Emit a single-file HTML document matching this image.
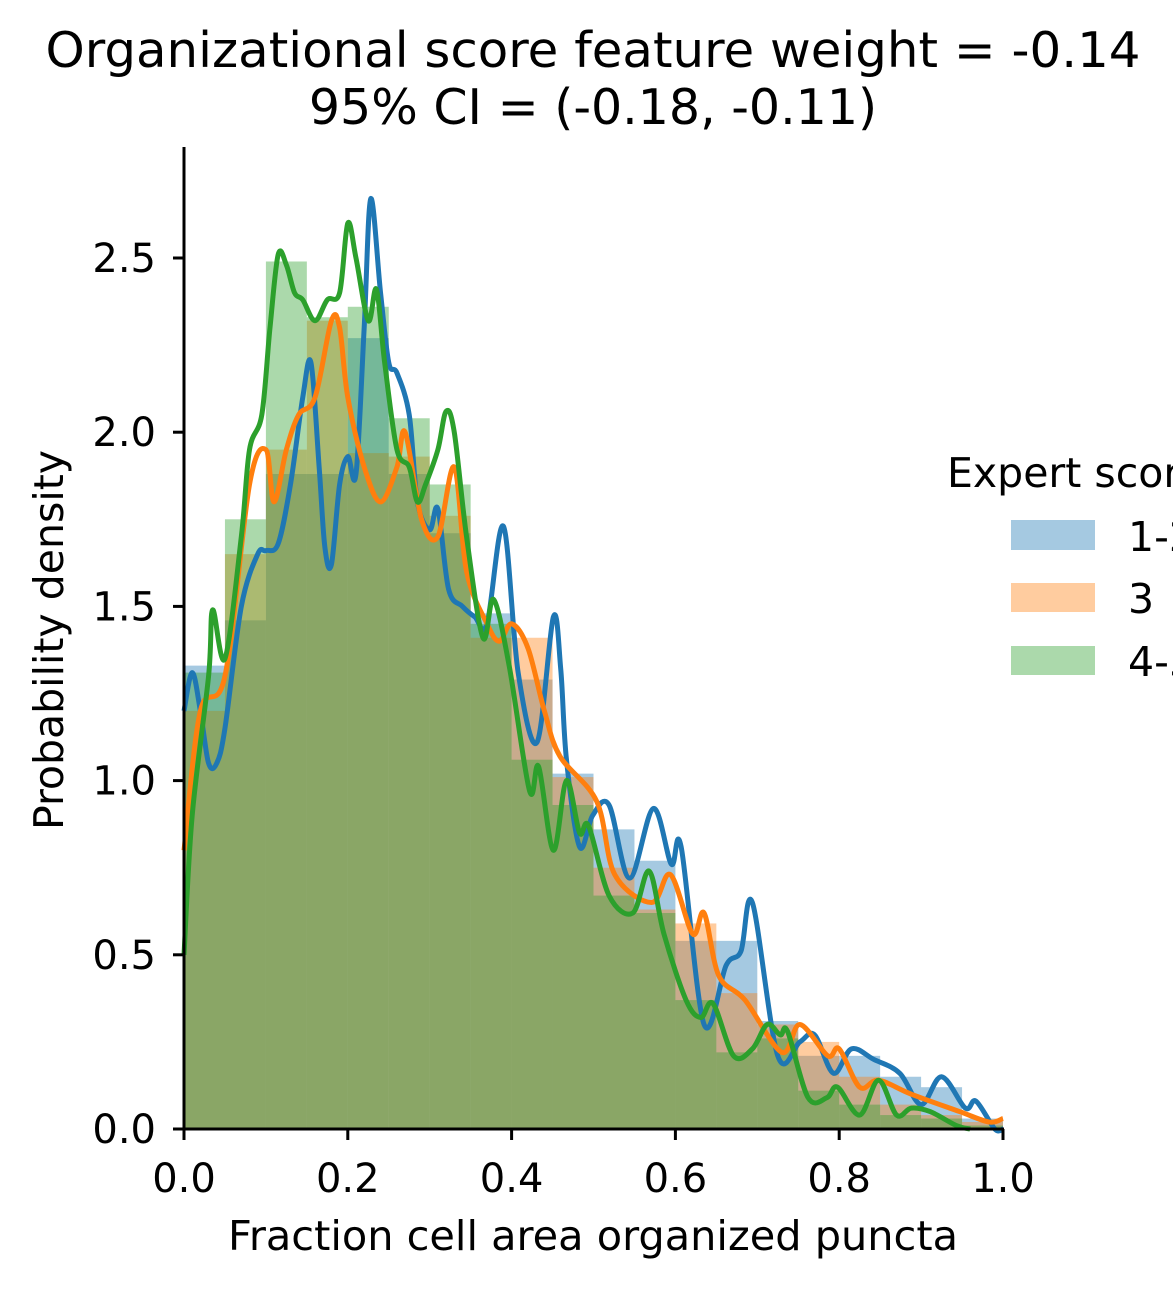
<!DOCTYPE html>
<html><head><meta charset="utf-8"><style>
html,body{margin:0;padding:0;background:#fff;}
svg{display:block;font-family:"DejaVu Sans","Liberation Sans",sans-serif;}
</style></head><body>
<svg id="chart" width="1173" height="1289" viewBox="0 0 1173 1289" xmlns="http://www.w3.org/2000/svg">
<text x="593" y="67" font-size="49" text-anchor="middle" textLength="1095" lengthAdjust="spacingAndGlyphs">Organizational score feature weight = -0.14</text>
<text x="593" y="124" font-size="49" text-anchor="middle">95% CI = (-0.18, -0.11)</text>
<g id="hist"></g>
<g id="kde"></g>
<g id="axes"></g>
<text x="593" y="1250" font-size="41" text-anchor="middle" textLength="730" lengthAdjust="spacingAndGlyphs">Fraction cell area organized puncta</text>
<text transform="translate(63,640) rotate(-90)" font-size="41" text-anchor="middle">Probability density</text>
<g>
<text x="947" y="487" font-size="41">Expert score</text>
<rect x="1011" y="520" width="84" height="30" fill="#1f77b4" fill-opacity="0.4"/>
<text x="1128" y="551" font-size="41">1-2</text>
<rect x="1011" y="583" width="84" height="29" fill="#ff7f0e" fill-opacity="0.4"/>
<text x="1128" y="613" font-size="41">3</text>
<rect x="1011" y="646" width="84" height="29" fill="#2ca02c" fill-opacity="0.4"/>
<text x="1128" y="676" font-size="41">4-5</text>
</g>
</svg>
<script>
const binEdgesStart = [0,0.05,0.1,0.15,0.2,0.25,0.3,0.35,0.4,0.45,0.5,0.55,0.6,0.65,0.7,0.75,0.8,0.85,0.9,0.95];
const histBlue = [1.33,1.46,1.88,1.88,2.27,1.88,1.71,1.48,1.29,1.02,0.86,0.77,0.54,0.54,0.31,0.21,0.21,0.15,0.12,0.03];
const histOrange = [1.2,1.65,1.95,2.32,1.94,1.93,1.76,1.41,1.41,1.01,0.75,0.63,0.59,0.39,0.30,0.25,0.15,0.07,0.04,0.02];
const histGreen = [1.31,1.75,2.49,2.33,2.36,2.04,1.85,1.45,1.06,0.93,0.67,0.62,0.37,0.22,0.26,0.11,0.07,0.04,0.03,0.01];
const kdeBlueX = [0,0.01,0.02,0.03,0.04,0.05,0.07,0.09,0.1,0.115,0.13,0.145,0.155,0.165,0.172,0.18,0.19,0.2,0.21,0.22,0.228,0.24,0.25,0.26,0.275,0.285,0.3,0.31,0.323,0.34,0.355,0.37,0.39,0.408,0.431,0.451,0.46,0.467,0.483,0.499,0.519,0.544,0.573,0.595,0.607,0.635,0.662,0.68,0.694,0.725,0.752,0.77,0.793,0.815,0.842,0.874,0.9,0.925,0.954,0.967,0.99,1.0];
const kdeBlueY = [1.2,1.31,1.2,1.05,1.05,1.15,1.5,1.65,1.66,1.68,1.85,2.1,2.2,1.9,1.67,1.62,1.85,1.93,1.88,2.3,2.67,2.4,2.2,2.17,2.05,1.8,1.72,1.78,1.55,1.5,1.47,1.45,1.73,1.31,1.11,1.47,1.32,1.06,0.81,0.9,0.93,0.72,0.92,0.76,0.81,0.3,0.47,0.51,0.65,0.21,0.25,0.27,0.16,0.23,0.2,0.16,0.07,0.15,0.06,0.08,0.0,0.0];
const kdeOrangeX = [0,0.02,0.05,0.08,0.1,0.11,0.125,0.14,0.16,0.18,0.19,0.2,0.22,0.24,0.26,0.27,0.29,0.31,0.33,0.345,0.37,0.385,0.4,0.42,0.44,0.459,0.504,0.526,0.571,0.594,0.621,0.635,0.653,0.685,0.730,0.752,0.786,0.8,0.825,0.848,0.888,0.947,0.983,1.0];
const kdeOrangeY = [0.8,1.2,1.3,1.85,1.95,1.8,1.95,2.05,2.1,2.32,2.3,2.1,1.9,1.8,1.9,2.0,1.75,1.7,1.9,1.6,1.45,1.4,1.45,1.38,1.2,1.07,0.94,0.73,0.65,0.73,0.56,0.62,0.44,0.37,0.22,0.30,0.21,0.23,0.12,0.14,0.10,0.05,0.02,0.03];
const kdeGreenX = [0,0.01,0.03,0.035,0.05,0.07,0.08,0.095,0.105,0.115,0.125,0.135,0.145,0.16,0.175,0.19,0.2,0.21,0.225,0.235,0.245,0.26,0.275,0.285,0.295,0.31,0.32,0.33,0.345,0.365,0.378,0.397,0.422,0.433,0.451,0.467,0.483,0.494,0.519,0.548,0.568,0.586,0.613,0.631,0.646,0.671,0.694,0.712,0.728,0.737,0.762,0.785,0.798,0.825,0.848,0.87,0.888,0.911,0.943,0.96];
const kdeGreenY = [0.5,0.9,1.3,1.49,1.35,1.7,1.95,2.05,2.3,2.51,2.48,2.4,2.38,2.32,2.38,2.4,2.6,2.5,2.32,2.41,2.2,1.95,1.9,1.8,1.85,1.95,2.06,2.0,1.7,1.41,1.52,1.33,0.97,1.04,0.8,1.0,0.85,0.87,0.67,0.62,0.74,0.56,0.37,0.32,0.36,0.21,0.23,0.30,0.27,0.28,0.09,0.09,0.12,0.04,0.14,0.04,0.06,0.05,0.01,0.0];
const xTicks = [0,0.2,0.4,0.6,0.8,1.0];
const xTickLabels = ["0.0","0.2","0.4","0.6","0.8","1.0"];
const yTicks = [0,0.5,1,1.5,2,2.5];
const yTickLabels = ["0.0","0.5","1.0","1.5","2.0","2.5"];

const X0=184,X1=1003,Y0=1129,PXU=348.4;
function sx(v){return X0+(X1-X0)*v;}
function sy(v){return Y0-PXU*v;}
const NS="http://www.w3.org/2000/svg";
const hist=document.getElementById('hist');
function drawHist(vals,color,name){
  vals.forEach((v,i)=>{
    const r=document.createElementNS(NS,'rect');
    const a=sx(binEdgesStart[i]), b=sx(binEdgesStart[i]+0.05);
    r.setAttribute('x',a);r.setAttribute('width',b-a);
    r.setAttribute('y',sy(v));r.setAttribute('height',Y0-sy(v));
    r.setAttribute('fill',color);r.setAttribute('fill-opacity','0.4');
    
    
    hist.appendChild(r);
  });
}
drawHist(histBlue,'#1f77b4','hist-1-2');
drawHist(histOrange,'#ff7f0e','hist-3');
drawHist(histGreen,'#2ca02c','hist-4-5');

const kde=document.getElementById('kde');
function drawLine(xs,ys,color,name){
  const p=xs.map((x,i)=>[sx(x),sy(ys[i])]);
  let d='M'+p[0][0]+','+p[0][1];
  for(let i=0;i<p.length-1;i++){
    const p0=p[Math.max(0,i-1)],p1=p[i],p2=p[i+1],p3=p[Math.min(p.length-1,i+2)];
    const c1=[p1[0]+(p2[0]-p0[0])/6,p1[1]+(p2[1]-p0[1])/6];
    const c2=[p2[0]-(p3[0]-p1[0])/6,p2[1]-(p3[1]-p1[1])/6];
    d+=' C'+c1[0]+','+c1[1]+' '+c2[0]+','+c2[1]+' '+p2[0]+','+p2[1];
  }
  const path=document.createElementNS(NS,'path');
  path.setAttribute('d',d);path.setAttribute('fill','none');
  path.setAttribute('stroke',color);path.setAttribute('stroke-width','5');
  path.setAttribute('stroke-linejoin','round');
  
  
  kde.appendChild(path);
}
drawLine(kdeBlueX,kdeBlueY,'#1f77b4','kde-line-1-2');
drawLine(kdeOrangeX,kdeOrangeY,'#ff7f0e','kde-line-3');
drawLine(kdeGreenX,kdeGreenY,'#2ca02c','kde-line-4-5');

const axes=document.getElementById('axes');
function mk(tag,attrs){const e=document.createElementNS(NS,tag);for(const k in attrs)e.setAttribute(k,attrs[k]);axes.appendChild(e);return e;}
const ls=mk('line',{x1:X0,y1:147,x2:X0,y2:Y0+1,stroke:'#000','stroke-width':3});


const bs=mk('line',{x1:X0-1,y1:Y0,x2:X1+1,y2:Y0,stroke:'#000','stroke-width':3});


xTicks.forEach((t,i)=>{
  const l=mk('line',{x1:sx(t),y1:Y0,x2:sx(t),y2:Y0+11,stroke:'#000','stroke-width':3});
  
  
  const tx=mk('text',{x:sx(t),y:Y0+63,'font-size':40,'text-anchor':'middle'});
  tx.textContent=xTickLabels[i];
  
  
});
yTicks.forEach((t,i)=>{
  const l=mk('line',{x1:X0-11,y1:sy(t),x2:X0,y2:sy(t),stroke:'#000','stroke-width':3});
  
  
  const tx=mk('text',{x:X0-28,y:sy(t)+14,'font-size':40,'text-anchor':'end'});
  tx.textContent=yTickLabels[i];
  
  
});
</script>
</body></html>
